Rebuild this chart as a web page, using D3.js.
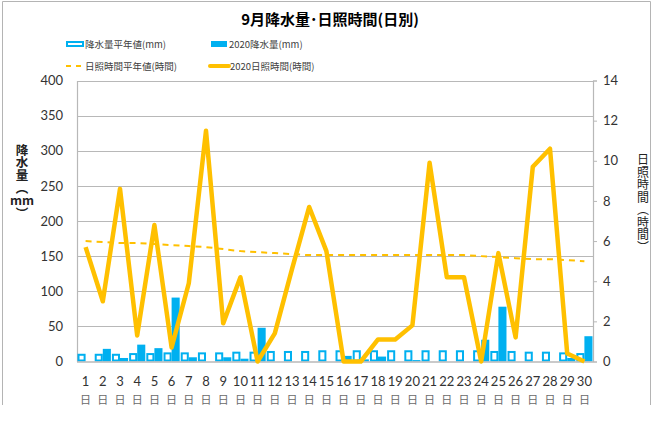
<!DOCTYPE html>
<html>
<head>
<meta charset="utf-8">
<script src="https://cdn.jsdelivr.net/npm/d3@7"></script>
<style>
  body { margin: 0; background: #fff; }
  svg { display: block; }
  text { font-family: "Noto Sans CJK JP", "Noto Sans", sans-serif; }
  .num { font-family: Lato, "Liberation Sans", sans-serif; }
  .vert { writing-mode: vertical-rl; }
</style>
</head>
<body>
<div id="chart"></div>
<script>
// day labels
var days = d3.range(1, 31);
// rainfall (mm)
var rainNormal = [11, 11, 11, 12, 12, 13, 13, 13, 13, 14, 14, 15, 15, 15, 16, 16, 16, 16, 16, 16, 16, 16, 16, 16, 15, 15, 14, 14, 13, 12];
var rain2020 = [0, 18, 5, 24, 19, 91, 6, 0, 6, 4, 48, 0, 0, 0, 0, 8, 3, 7, 0, 2, 0, 0, 0, 31, 78, 0, 0, 0, 5, 36];
// sunshine (hours)
var sunNormal = [6.0, 5.95, 5.9, 5.9, 5.85, 5.8, 5.75, 5.7, 5.6, 5.5, 5.45, 5.4, 5.35, 5.3, 5.3, 5.3, 5.3, 5.3, 5.3, 5.3, 5.3, 5.3, 5.3, 5.25, 5.2, 5.15, 5.1, 5.1, 5.05, 5.0];
var sun2020 = [5.7, 3.0, 8.6, 1.3, 6.8, 0.7, 3.9, 11.5, 1.9, 4.2, 0, 1.4, 4.6, 7.7, 5.5, 0, 0, 1.1, 1.1, 1.8, 9.9, 4.2, 4.2, 0, 5.4, 1.2, 9.7, 10.6, 0.4, 0];
var rainTicks = [0, 50, 100, 150, 200, 250, 300, 350, 400];
var sunTicks = [0, 2, 4, 6, 8, 10, 12, 14];

var svgWidth = 660, svgHeight = 426;
var plot = { left: 77, right: 593, top: 80.5, bottom: 361.5 };
var blue = "#00b0f0", gold = "#ffc000", grid = "#b8b8b8";

var svg = d3.select("#chart").append("svg")
  .attr("width", svgWidth)
  .attr("height", svgHeight);

// outer frame
svg.append("path")
  .attr("d", "M2.5,405V1.5H650.5V405")
  .attr("fill", "none")
  .attr("stroke", "#b4b4b4");

// scales
var x = d3.scaleBand().domain(days).range([plot.left, plot.right]).paddingInner(0.06).paddingOuter(0.03);
var yRain = d3.scaleLinear().domain([0, 400]).range([plot.bottom, plot.top]);
var ySun = d3.scaleLinear().domain([0, 14]).range([plot.bottom, plot.top]);
var bw = x.bandwidth();

// title
svg.append("text")
  .attr("x", 330).attr("y", 25)
  .attr("text-anchor", "middle")
  .attr("font-size", 15).attr("font-weight", "bold")
  .attr("fill", "#000")
  .text("9月降水量･日照時間(日別)");

// legend
var lg = svg.append("g").attr("font-size", 9.5).attr("fill", "#404040");
lg.append("rect").attr("x", 67).attr("y", 42).attr("width", 16).attr("height", 4)
  .attr("fill", "#fff").attr("stroke", blue).attr("stroke-width", 2);
lg.append("text").attr("x", 85).attr("y", 48).text("降水量平年値(mm)");
lg.append("rect").attr("x", 211).attr("y", 41).attr("width", 16).attr("height", 6).attr("fill", blue);
lg.append("text").attr("x", 229).attr("y", 48).text("2020降水量(mm)");
lg.append("line").attr("x1", 66).attr("x2", 84).attr("y1", 66).attr("y2", 66)
  .attr("stroke", gold).attr("stroke-width", 2).attr("stroke-dasharray", "5,5");
lg.append("text").attr("x", 85).attr("y", 70).text("日照時間平年値(時間)");
lg.append("line").attr("x1", 210).attr("x2", 229).attr("y1", 66).attr("y2", 66)
  .attr("stroke", gold).attr("stroke-width", 4).attr("stroke-linecap", "round");
lg.append("text").attr("x", 230).attr("y", 70).text("2020日照時間(時間)");

// gridlines
svg.append("g").selectAll("line")
  .data(rainTicks.filter(d => d > 0))
  .enter().append("line")
  .attr("x1", plot.left).attr("x2", plot.right)
  .attr("y1", d => Math.round(yRain(d)) + 0.5)
  .attr("y2", d => Math.round(yRain(d)) + 0.5)
  .attr("stroke", grid).attr("stroke-width", 1.2);

// left axis
var leftAxis = d3.axisLeft(yRain).tickValues(rainTicks).tickSize(0).tickPadding(14);
var gl = svg.append("g").attr("transform", `translate(${plot.left},0)`).call(leftAxis);
gl.select(".domain").attr("stroke", grid).attr("stroke-width", 1.2);
gl.selectAll("text").attr("class", "num").attr("font-size", 13).attr("fill", "#333");

// right axis
var rightAxis = d3.axisRight(ySun).tickValues(sunTicks).tickSize(4).tickPadding(6);
var gr = svg.append("g").attr("transform", `translate(${plot.right},0)`).call(rightAxis);
gr.select(".domain").attr("stroke", grid).attr("stroke-width", 1.2);
gr.selectAll("line").attr("stroke", grid);
gr.selectAll("text").attr("class", "num").attr("font-size", 13).attr("fill", "#333");

// bars: normal (hollow) and 2020 (filled)
svg.append("g").selectAll("rect")
  .data(rainNormal)
  .enter().append("rect")
  .attr("x", (d, i) => x(days[i]) + 1)
  .attr("y", d => yRain(d) + 1)
  .attr("width", bw / 2 - 2)
  .attr("height", d => yRain(0) - yRain(d) - 2)
  .attr("fill", "#fff")
  .attr("stroke", blue)
  .attr("stroke-width", 2);

svg.append("g").selectAll("rect")
  .data(rain2020)
  .enter().append("rect")
  .attr("x", (d, i) => x(days[i]) + bw / 2)
  .attr("y", d => yRain(d))
  .attr("width", bw / 2)
  .attr("height", d => yRain(0) - yRain(d))
  .attr("fill", blue);

// bottom axis line
svg.append("line")
  .attr("x1", plot.left).attr("x2", plot.right)
  .attr("y1", plot.bottom + 0.5).attr("y2", plot.bottom + 0.5)
  .attr("stroke", grid).attr("stroke-width", 1.5);

// sunshine lines
var sunLine = d3.line()
  .x((d, i) => x(days[i]) + bw / 2)
  .y(d => ySun(d));

svg.append("path")
  .datum(sunNormal)
  .attr("d", sunLine)
  .attr("fill", "none")
  .attr("stroke", gold)
  .attr("stroke-width", 2)
  .attr("stroke-dasharray", "6,5");

svg.append("path")
  .datum(sun2020)
  .attr("d", sunLine)
  .attr("fill", "none")
  .attr("stroke", gold)
  .attr("stroke-width", 4.5)
  .attr("stroke-linejoin", "round");

// x labels
var xl = svg.append("g");
xl.selectAll("text.day")
  .data(days)
  .enter().append("text")
  .attr("class", "num")
  .attr("x", d => x(d) + bw / 2)
  .attr("y", 386)
  .attr("text-anchor", "middle")
  .attr("font-size", 13)
  .attr("fill", "#333")
  .text(d => d);
xl.selectAll("text.ni")
  .data(days)
  .enter().append("text")
  .attr("x", d => x(d) + bw / 2)
  .attr("y", 404)
  .attr("text-anchor", "middle")
  .attr("font-size", 11)
  .attr("fill", "#6a6a6a")
  .text("日");

// axis titles (vertical writing)
var lt = svg.append("g").attr("font-size", 12.5).attr("font-weight", "bold").attr("fill", "#222");
lt.append("text").attr("class", "vert")
  .attr("x", 22).attr("y", 143.5)
  .attr("letter-spacing", 0.3)
  .text("降水量（");
lt.append("text")
  .attr("x", 22).attr("y", 204.5)
  .attr("text-anchor", "middle")
  .text("mm");
lt.append("text").attr("class", "vert")
  .attr("x", 22).attr("y", 207)
  .text("）");

svg.append("text").attr("class", "vert")
  .attr("x", 643).attr("y", 153.5)
  .attr("font-size", 12)
  .attr("letter-spacing", 0.5)
  .attr("fill", "#222")
  .text("日照時間（時間）");
</script>
</body>
</html>
